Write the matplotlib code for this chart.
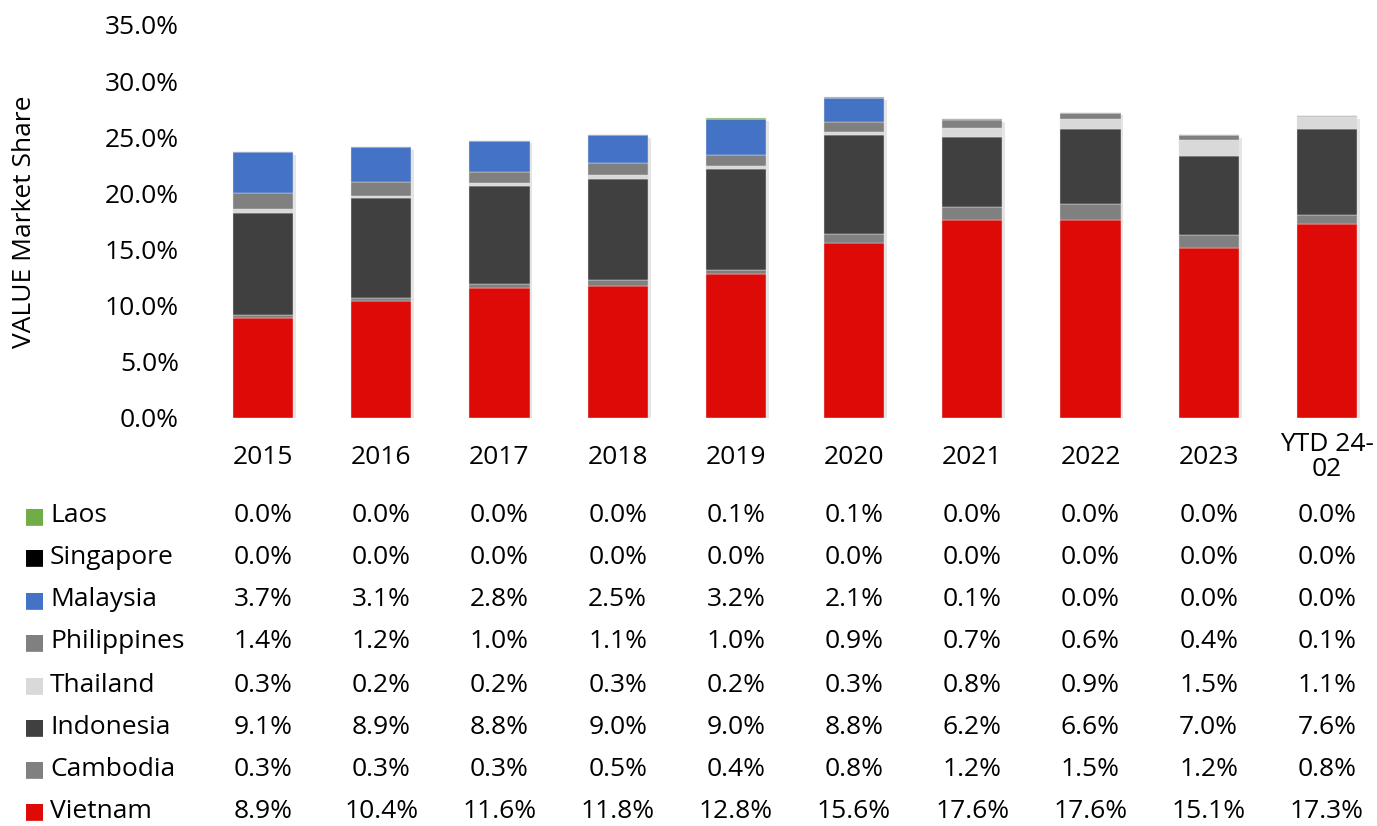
import matplotlib as mpl
import matplotlib.pyplot as plt
import matplotlib.patheffects as pe
import numpy as np

mpl.rcParams['font.family'] = ['Open Sans', 'DejaVu Sans']
mpl.rcParams['font.size'] = 19

years = ['2015', '2016', '2017', '2018', '2019', '2020', '2021', '2022', '2023', 'YTD 24-\n02']

# stacked bottom -> top
vietnam = [8.9, 10.4, 11.6, 11.8, 12.8, 15.6, 17.6, 17.6, 15.1, 17.3]
cambodia = [0.3, 0.3, 0.3, 0.5, 0.4, 0.8, 1.2, 1.5, 1.2, 0.8]
indonesia = [9.1, 8.9, 8.8, 9.0, 9.0, 8.8, 6.2, 6.6, 7.0, 7.6]
thailand = [0.3, 0.2, 0.2, 0.3, 0.2, 0.3, 0.8, 0.9, 1.5, 1.1]
philippines = [1.4, 1.2, 1.0, 1.1, 1.0, 0.9, 0.7, 0.6, 0.4, 0.1]
malaysia = [3.7, 3.1, 2.8, 2.5, 3.2, 2.1, 0.1, 0.0, 0.0, 0.0]
singapore = [0.0, 0.0, 0.0, 0.0, 0.0, 0.0, 0.0, 0.0, 0.0, 0.0]
laos = [0.0, 0.0, 0.0, 0.0, 0.1, 0.1, 0.0, 0.0, 0.0, 0.0]

series = [
    ('Vietnam', vietnam, '#DE0A07'),
    ('Cambodia', cambodia, '#808080'),
    ('Indonesia', indonesia, '#404040'),
    ('Thailand', thailand, '#D9D9D9'),
    ('Philippines', philippines, '#808080'),
    ('Malaysia', malaysia, '#4472C4'),
    ('Singapore', singapore, '#000000'),
    ('Laos', laos, '#70AD47'),
]

W, H = 1377, 826
fig = plt.figure(figsize=(W / 100, H / 100), dpi=100)
ax = fig.add_axes([204 / W, 1 - 418 / H, (W - 204) / W, (418 - 25) / H])

x = np.arange(len(years))
bw = 0.51
totals = np.sum([s[1] for s in series], axis=0)
# soft shadow behind each stack
ax.bar(x, totals, bw, color='white', zorder=1,
       path_effects=[pe.SimplePatchShadow(offset=(2, -2), shadow_rgbFace='#999999', alpha=0.25), pe.Normal()])
bottom = np.zeros(len(years))
for name, vals, col in series:
    ax.bar(x, vals, bw, bottom=bottom, color=col, edgecolor='#e4e4e4', linewidth=0.3, zorder=2)
    bottom += np.array(vals)

ax.set_ylim(0, 35)
ax.set_xlim(-0.5, -0.5 + (W - 204) / 118.2)
ax.set_yticks(np.arange(0, 36, 5))
ax.set_yticklabels([f'{v:.1f}%' for v in np.arange(0, 36, 5)])
ax.tick_params(axis='y', length=0, pad=18)
ax.set_xticks([])
for s in ax.spines.values():
    s.set_visible(False)
fig.text(25 / W, 1 - 222 / H, 'VALUE Market Share', rotation=90, ha='center', va='center', fontsize=19)

trans = mpl.transforms.blended_transform_factory(ax.transData, fig.transFigure)
for i, lab in enumerate(years):
    ax.text(i, 1 - 457 / H, lab, transform=trans, ha='center', va='center', linespacing=1.05)

row_y = [516, 557, 600, 642, 685, 727, 769, 811]
for (name, vals, col), py in zip(series[::-1], row_y):
    yf = 1 - py / H
    fig.text(24 / W, yf, '\u25A0', color=col, fontsize=16, ha='left', va='center', family='DejaVu Sans')
    fig.text(50 / W, yf, name, ha='left', va='center')
    for i, v in enumerate(vals):
        ax.text(i, yf, f'{v:.1f}%', transform=trans, ha='center', va='center')

plt.savefig('out.png', dpi=100)
